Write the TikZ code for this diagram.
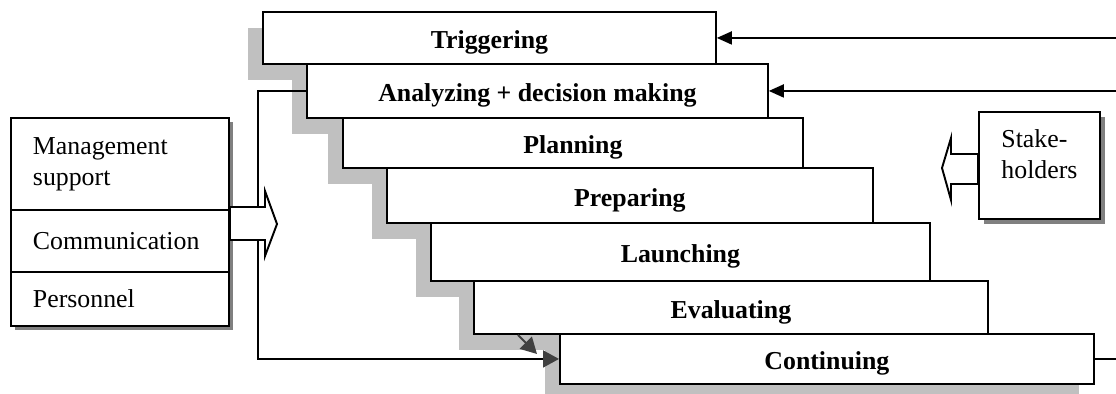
\documentclass[tikz,border=0pt]{standalone}
\usepackage{fontspec}
\setmainfont{Liberation Serif}
\usetikzlibrary{shadows,arrows.meta}
\definecolor{lightshade}{HTML}{C0C0C0}
\definecolor{darkshade}{HTML}{808080}
\definecolor{tipgray}{HTML}{404040}

\begin{document}
\begin{tikzpicture}[x=0.02cm, y=-0.02cm, line width=1.1pt,
		font=\fontsize{14.7}{17.6}\selectfont,
		phase/.style={draw, fill=white, anchor=north west, inner sep=0pt,
			text height=15pt, text depth=2.6pt,
			font=\fontsize{14.7}{17.6}\selectfont\bfseries,
			drop shadow={shadow xshift=-0.3cm, shadow yshift=-0.32cm, fill=lightshade, opacity=1}},
		side/.style={draw, fill=white, anchor=north west, minimum width=4.36cm,
			text width=3.48cm, inner xsep=0.44cm, align=left},
		hollow/.style={draw, fill=white},
		feed/.style={-{Triangle[length=0.3cm, width=0.26cm]}},
		back/.style={-{Triangle[length=0.32cm, width=0.34cm, color=tipgray]}}]
	\useasboundingbox (0,0) rectangle (1116,394);

	\node[phase, minimum width=9.06cm, minimum height=1.04cm] (trig) at (262,11) {Triggering};
	\node[phase, minimum width=9.22cm, minimum height=1.08cm] (anal) at (306,63) {Analyzing + decision making};
	\node[phase, minimum width=9.2cm, minimum height=1.0cm] (plan) at (342,117) {Planning};
	\node[phase, minimum width=9.72cm, minimum height=1.1cm] (prep) at (386,167) {Preparing};
	\node[phase, minimum width=9.98cm, minimum height=1.16cm] (laun) at (430,222) {Launching};
	\node[phase, minimum width=10.28cm, minimum height=1.06cm] (eval) at (473,280) {Evaluating};
	\node[phase, minimum width=10.68cm, minimum height=1.0cm] (cont) at (559,333) {Continuing};

	\fill[darkshade] (15,122) rectangle (233,330);
	\node[side, minimum height=1.84cm] (mgmt) at (10,117) {Management\\support};
	\node[side, minimum height=1.24cm] (comm) at (10,209) {Communication};
	\node[side, minimum height=1.08cm] (pers) at (10,271) {Personnel};

	\node[draw, fill=white, anchor=north west, minimum width=2.42cm, minimum height=2.14cm,
		drop shadow={shadow xshift=0.1cm, shadow yshift=-0.1cm, fill=darkshade, opacity=1}]
		(stake) at (978,111) {\begin{tabular}{@{}l@{}}Stake-\\holders\\[0.36cm]\end{tabular}};

	\coordinate (redge) at (1116,0);
	\coordinate (hit) at (537,354);

	\draw[feed] (trig.east -| redge) -- (trig.east);
	\draw[feed] (anal.east -| redge) -- (anal.east);
	\draw (cont.east) -- (cont.east -| redge);
	\draw[back] (anal.west) -- ++(-48,0) |- (cont.west);
	\draw[back, tipgray] ([xshift=0.9cm]eval.south west) -- (hit);

	% wide arrows
	\draw[hollow] (230,207) -- (265,207) -- (265,191) -- (277,224) -- (265,256) -- (265,240) -- (230,240) -- cycle;
	\draw[hollow] (978,154) -- (951,154) -- (951,138) -- (942,168) -- (951,200) -- (951,184) -- (978,184) -- cycle;
\end{tikzpicture}
\end{document}
